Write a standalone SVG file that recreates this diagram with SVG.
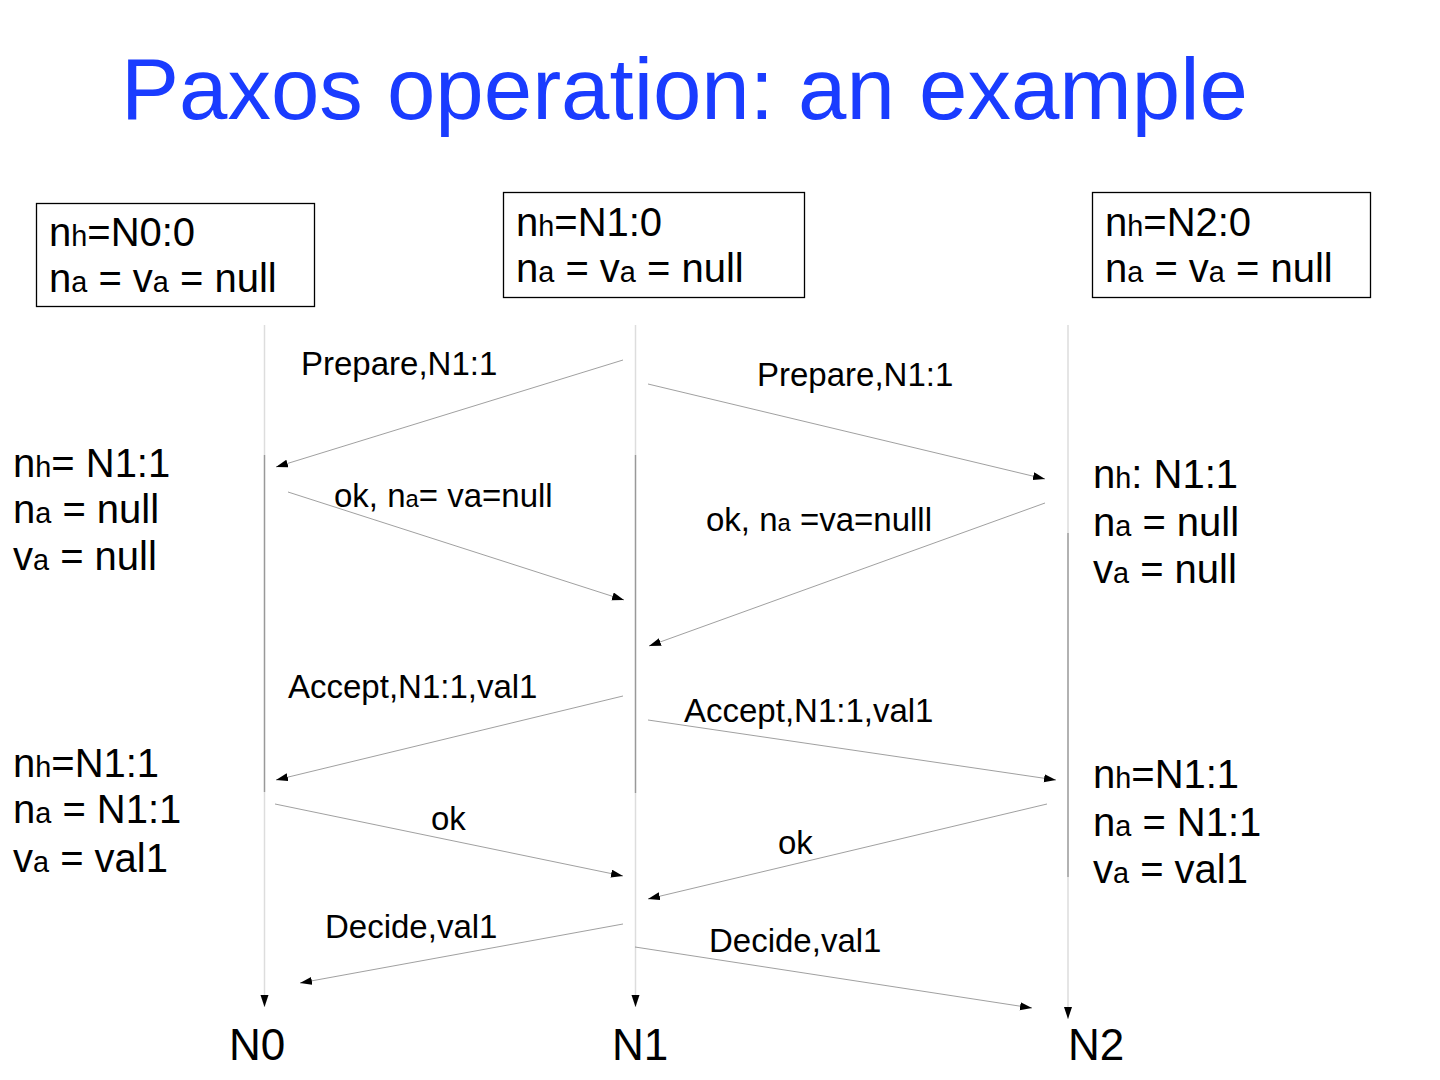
<svg xmlns="http://www.w3.org/2000/svg" width="1440" height="1080" viewBox="0 0 1440 1080">
<defs>
<marker id="ah" markerUnits="userSpaceOnUse" markerWidth="13" markerHeight="9" refX="12" refY="4" orient="auto">
<path d="M0,0 L12,4 L0,8 z" fill="#000"/>
</marker>
</defs>
<style>
text{font-family:"Liberation Sans",Arial,sans-serif;fill:#000}
.title{font-size:87px;fill:#1a3cff}
.st{font-size:40px}
.lb{font-size:33px}
.nm{font-size:44px}
.s{font-size:72%}
.box{fill:#fff;stroke:#000;stroke-width:1.3}
.ll{stroke:#999;stroke-width:1.5;fill:none}
.lt{stroke:#ddd;stroke-width:1.5;fill:none}
.msg{stroke:#888;stroke-width:0.8;fill:none}
</style>
<rect width="1440" height="1080" fill="#fff"/>
<text class="title" x="121" y="119">Paxos operation: an example</text>

<g id="N0">
<rect class="box" x="36.5" y="203.5" width="278" height="103"/>
<text class="st" x="49" y="246">n<tspan class="s">h</tspan>=N0:0</text>
<text class="st" x="49" y="292">n<tspan class="s">a</tspan> = v<tspan class="s">a</tspan> = null</text>
<line class="lt" x1="264.5" y1="325" x2="264.5" y2="455"/>
<line class="ll" x1="264.5" y1="455" x2="264.5" y2="792"/>
<line class="lt" x1="264.5" y1="792" x2="264.5" y2="1007" marker-end="url(#ah)"/>
<text class="st" x="13" y="477">n<tspan class="s">h</tspan>= N1:1</text>
<text class="st" x="13" y="523">n<tspan class="s">a</tspan> = null</text>
<text class="st" x="13" y="570">v<tspan class="s">a</tspan> = null</text>
<text class="st" x="13" y="777">n<tspan class="s">h</tspan>=N1:1</text>
<text class="st" x="13" y="823">n<tspan class="s">a</tspan> = N1:1</text>
<text class="st" x="13" y="872">v<tspan class="s">a</tspan> = val1</text>
<text class="nm" x="229" y="1060">N0</text>
</g>

<g id="N1">
<rect class="box" x="503.5" y="192.5" width="301" height="105"/>
<text class="st" x="516" y="236">n<tspan class="s">h</tspan>=N1:0</text>
<text class="st" x="516" y="282">n<tspan class="s">a</tspan> = v<tspan class="s">a</tspan> = null</text>
<line class="lt" x1="635.5" y1="325" x2="635.5" y2="455"/>
<line class="ll" x1="635.5" y1="455" x2="635.5" y2="793"/>
<line class="lt" x1="635.5" y1="793" x2="635.5" y2="1007" marker-end="url(#ah)"/>
<text class="nm" x="612" y="1060">N1</text>
</g>

<g id="N2">
<rect class="box" x="1092.5" y="192.5" width="278" height="105"/>
<text class="st" x="1105" y="236">n<tspan class="s">h</tspan>=N2:0</text>
<text class="st" x="1105" y="282">n<tspan class="s">a</tspan> = v<tspan class="s">a</tspan> = null</text>
<line class="lt" x1="1068" y1="325" x2="1068" y2="533"/>
<line class="ll" x1="1068" y1="533" x2="1068" y2="877"/>
<line class="lt" x1="1068" y1="877" x2="1068" y2="1019" marker-end="url(#ah)"/>
<text class="st" x="1093" y="488">n<tspan class="s">h</tspan>: N1:1</text>
<text class="st" x="1093" y="536">n<tspan class="s">a</tspan> = null</text>
<text class="st" x="1093" y="583">v<tspan class="s">a</tspan> = null</text>
<text class="st" x="1093" y="788">n<tspan class="s">h</tspan>=N1:1</text>
<text class="st" x="1093" y="836">n<tspan class="s">a</tspan> = N1:1</text>
<text class="st" x="1093" y="883">v<tspan class="s">a</tspan> = val1</text>
<text class="nm" x="1068" y="1060">N2</text>
</g>

<g id="connectors">
<line class="msg" x1="623" y1="360" x2="276" y2="467" marker-end="url(#ah)"/>
<line class="msg" x1="648" y1="384" x2="1045" y2="479" marker-end="url(#ah)"/>
<line class="msg" x1="288" y1="492" x2="624" y2="600" marker-end="url(#ah)"/>
<line class="msg" x1="1045" y1="503" x2="649" y2="646" marker-end="url(#ah)"/>
<line class="msg" x1="623" y1="696" x2="276" y2="780" marker-end="url(#ah)"/>
<line class="msg" x1="648" y1="720" x2="1056" y2="780" marker-end="url(#ah)"/>
<line class="msg" x1="275" y1="804" x2="623" y2="876" marker-end="url(#ah)"/>
<line class="msg" x1="1047" y1="804" x2="648" y2="899" marker-end="url(#ah)"/>
<line class="msg" x1="623" y1="924" x2="300" y2="983" marker-end="url(#ah)"/>
<line class="msg" x1="635" y1="947" x2="1032" y2="1008" marker-end="url(#ah)"/>
<text class="lb" x="301" y="375">Prepare,N1:1</text>
<text class="lb" x="757" y="386">Prepare,N1:1</text>
<text class="lb" x="334" y="507">ok, n<tspan class="s">a</tspan>= va=null</text>
<text class="lb" x="706" y="531">ok, n<tspan class="s">a</tspan> =va=nulll</text>
<text class="lb" x="288" y="698">Accept,N1:1,val1</text>
<text class="lb" x="684" y="722">Accept,N1:1,val1</text>
<text class="lb" x="431" y="830">ok</text>
<text class="lb" x="778" y="854">ok</text>
<text class="lb" x="325" y="938">Decide,val1</text>
<text class="lb" x="709" y="952">Decide,val1</text>
</g>
</svg>
